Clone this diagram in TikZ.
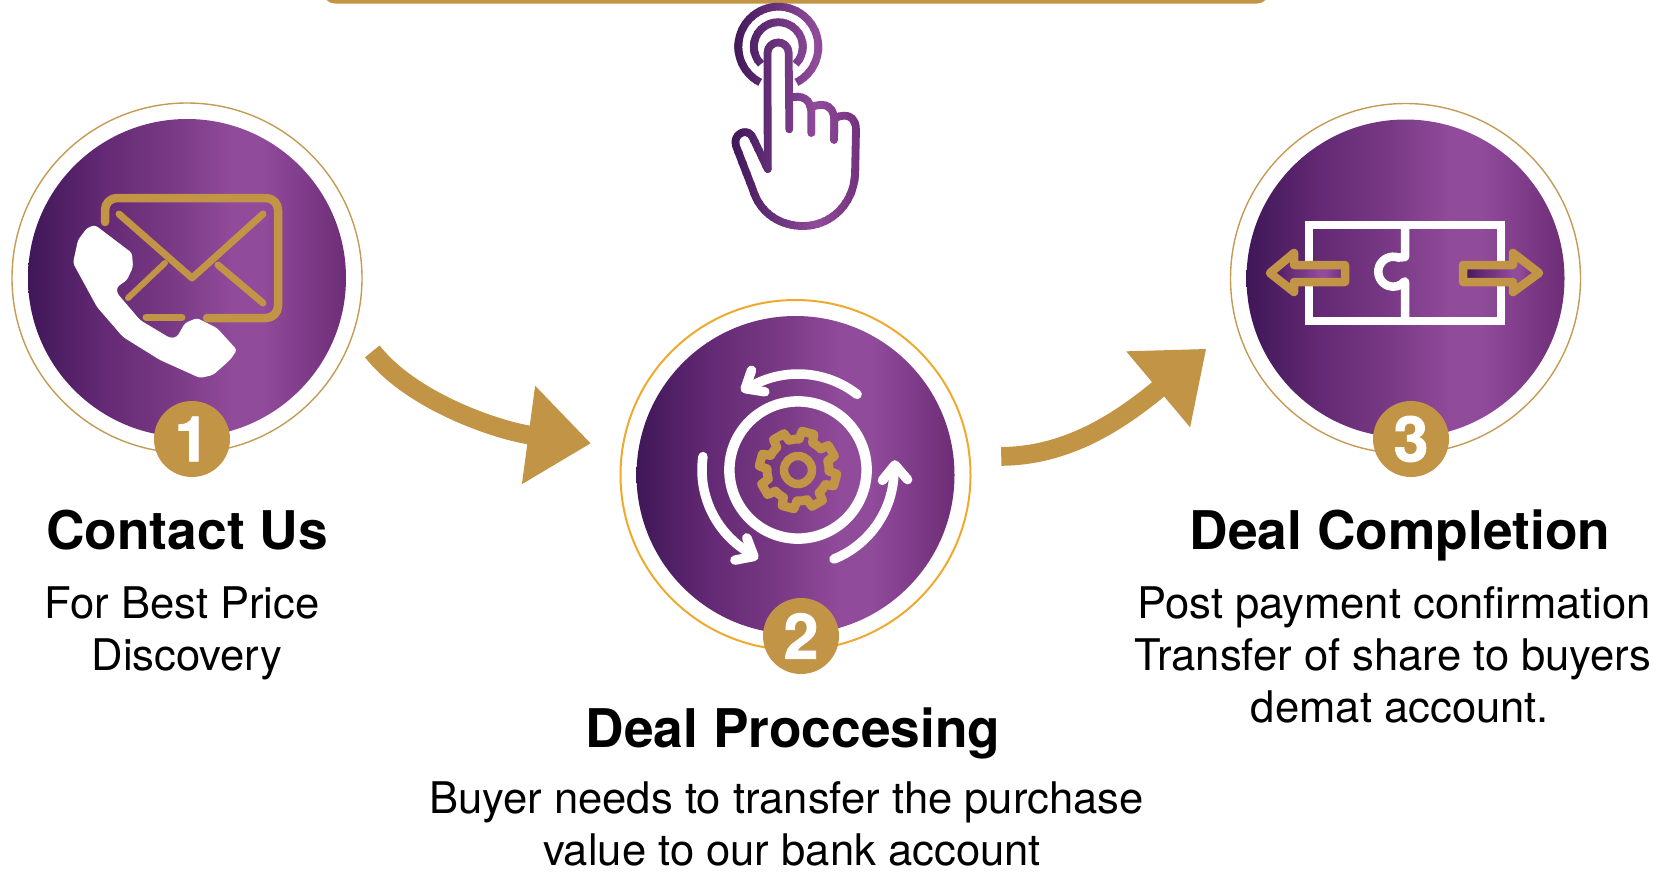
\documentclass[tikz,border=0pt]{standalone}
\usepackage{fontspec}
\setmainfont{TeX Gyre Heros}
\newfontfamily\badgefont{TeX Gyre Heros}[BoldFeatures={FakeBold=1.2}]
\usetikzlibrary{%
  arrows.meta,%
  shadings%
}

\definecolor{gold}{HTML}{C29445}
\definecolor{ringgold}{HTML}{C49A55}
\definecolor{ringorange}{HTML}{EFA92F}
\definecolor{pfone}{HTML}{3F1758}
\definecolor{pftwo}{HTML}{652A75}
\definecolor{pfthree}{HTML}{7A3A85}
\definecolor{pffour}{HTML}{904B9B}
\definecolor{pffive}{HTML}{6E2D77}

\pgfdeclarehorizontalshading{purplefade}{100bp}{%
  color(0bp)=(pfone); color(25bp)=(pfone); color(37bp)=(pftwo);
  color(48bp)=(pfthree); color(57bp)=(pffour); color(62bp)=(pffour);
  color(75bp)=(pffive); color(100bp)=(pffive)}

% all strokes of the hand icon
\newcommand{\handstrokes}{%
\draw[handline,line cap=butt] (778.3,46.7) ++(117:40) arc (117:423:40);
\draw[handline,line cap=butt] (778.3,46.7) ++(135:24.5) arc (135:405:24.5);
\draw[handline] (767.7,169) -- (767.5,53) arc (180:360:10.6) -- (789.3,129.3);
\draw[handline] (789,98) .. controls (803,94) and (811,100) .. (811.3,112) -- (811.3,133);
\draw[handline] (812,107) .. controls (826,101) and (834,108) .. (834.3,120) -- (834,140);
\draw[handline] (835,118) .. controls (848,112) and (856,118) .. (856,130) -- (855,175)
	.. controls (853,205) and (830,226) .. (803,226)
	.. controls (780,226) and (760,213) .. (753,190) -- (736,146)
	.. controls (732,134) and (748,126) .. (753,138) -- (767.7,169);
}

\begin{document}
\begin{tikzpicture}[x=1pt,y=1pt,yscale=-1,
	ringline/.style={
	circle,minimum size=350pt,inner sep=0pt,line width=1.4pt,draw=ringgold
	},disc/.style={
	circle,minimum size=318pt,inner sep=0pt,shading=purplefade
	},badge/.style={
	circle,minimum size=76pt,inner sep=0pt,fill=gold,text=white,
	font=\fontsize{63}{63}\selectfont\badgefont\bfseries
	},heading/.style={
	anchor=base,inner sep=0pt,font=\fontsize{53.3}{60}\selectfont\bfseries
	},blurb/.style={
	anchor=base,inner sep=0pt,align=center,font=\fontsize{43.6}{52}\selectfont
	},flowarrow/.style={
	draw=gold,line width=18.8pt,-{Triangle[length=63pt,width=95pt]}
	},goldline/.style={
	draw=gold,line width=8.5pt,line cap=round,line join=round
	},whiteline/.style={
	draw=white,line width=9.5pt,line cap=round,line join=round
	},handline/.style={
	line width=7.8pt,line cap=round,line join=round
	}]

\useasboundingbox (0,0) rectangle (1665,871);
\clip (0,0) rectangle (1665,871);

\node (topbar) [fill=gold,rounded corners=12pt,minimum width=946pt,minimum height=60pt] at (796,-26.5) {};

% First step
\node (ring1) [ringline] at (187,278) {};
\node (disc1) [disc] at (187,278) {};
\draw[goldline,rounded corners=12pt] (207,318) -- (278,318) -- (278,198) -- (105,198) -- (105,222);
\draw[goldline,line width=7pt] (146,317) -- (182,317);
\draw[goldline,line width=7pt] (119,214) -- (192,278) -- (263,214);
\draw[goldline,line width=6pt] (128,298) -- (165,263);
\draw[goldline,line width=7pt] (218,265) -- (263,303);
\fill[white,rounded corners=3pt] (95,225) -- (132,253) -- (133,267) -- (127,280) -- (117,287) -- (117,293)
	-- (140,320) -- (170,338) -- (177,337) -- (185,323) -- (197,318) -- (217,328) -- (237,350)
	-- (230,360) -- (213,375) -- (200,378) -- (160,360) -- (123,337) -- (97,307) -- (73,263)
	-- (78,240) -- (87,228) -- cycle;
\node (badge1) [badge] at (192,439) {1};
\node (title1) [heading] at (187,549) {Contact Us};
\node (text1) [blurb] at (187,670) {For Best Price\hspace*{10pt}\\Discovery};

% Second step
\node (ring2) [ringline,draw=ringorange,line width=2pt] at (795.5,475) {};
\node (disc2) [disc] at (795.5,475) {};
\draw[whiteline,line width=10.5pt] (798,470) circle (68.6);
\foreach \a in {0,120,240} {
\begin{scope}[shift={(798,470)},rotate=-\a]
\draw[whiteline] (-52:96) arc (-52:-120:96);
\draw[whiteline] (-115:110) -- (-123:97) -- (-113:85);
\end{scope}
}
\begin{scope}[shift={(798,470)}]
\draw[goldline] (0,0) circle (14);
\foreach \a in {15,60,...,330} {
\draw[goldline,line width=9pt] (\a-13:31) -- (\a-9:39) -- (\a+9:39) -- (\a+13:31) arc (\a+13:\a+32:31);
}
\end{scope}
\node (badge2) [badge] at (801,636) {2};
\node (title2) [heading] at (793,747) {Deal Proccesing};
\node (text2) [blurb] at (792,865.5) {Buyer needs to transfer the purchase\hspace*{11pt}\\value to our bank account};

% Third step
\node (ring3) [ringline] at (1405.5,278.5) {};
\node (disc3) [disc] at (1405.5,278.5) {};
\draw[whiteline,line width=8.5pt,line join=miter] (1309,225) rectangle (1501,321);
\draw[whiteline,line width=8.5pt,line cap=butt] (1405,225) -- (1405,257) -- (1398.4,257.6) arc (-70:-320:15) -- (1405,282) -- (1405,321);
\draw[goldline,shading=purplefade,shade] (1270,273) -- (1294,253) -- (1294,265) -- (1345,265) -- (1345,282) -- (1294,282) -- (1294,292) -- cycle;
\draw[goldline,shading=purplefade,shade] (1539,273) -- (1513,253) -- (1513,265) -- (1463,265) -- (1463,282) -- (1513,282) -- (1513,292) -- cycle;
\node (badge3) [badge] at (1411,439) {3};
\node (title3) [heading] at (1400,549) {Deal Completion};
\node (text3) [blurb] at (1400,722) {\kern-6pt Post payment confirmation\kern6pt\\\kern-7pt Transfer of share to buyers\kern7pt\\demat account.};

% Hand, colour changes strip by strip
\foreach \x in {730,734,...,862} {
\pgfmathsetmacro{\mixa}{min(100,max(0,(\x-730)/85*100))}
\pgfmathsetmacro{\mixb}{min(100,max(0,(\x-815)/50*100))}
\colorlet{handcolor}{pffour!\mixa!pfone}
\colorlet{handcolor}{pffive!\mixb!handcolor}
\begin{scope}[draw=handcolor]
\clip (\x,0) rectangle (\x+5,235);
\handstrokes
\end{scope}
}

% Arrows
\draw[flowarrow,shorten <=28pt,shorten >=31pt] (ring1.-17.4) .. controls (412,402) and (499,431) .. (ring2.171);
\draw[flowarrow,shorten <=30.7pt,shorten >=38.5pt] (ring2.6.2) .. controls (1060,456) and (1111,429) .. (ring3.195.2);

\end{tikzpicture}
\end{document}
